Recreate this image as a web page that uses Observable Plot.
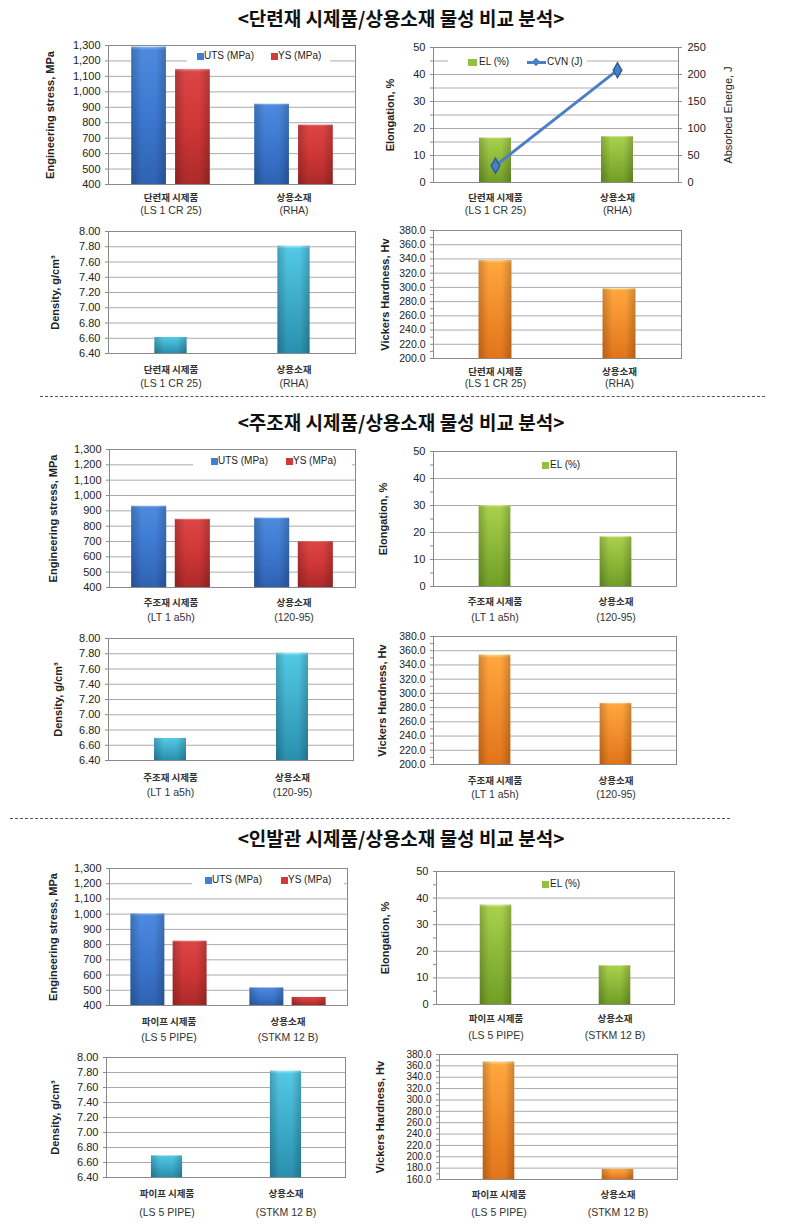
<!DOCTYPE html>
<html><head><meta charset="utf-8">
<script src="https://cdn.jsdelivr.net/npm/d3@7"></script>
<script src="https://cdn.jsdelivr.net/npm/@observablehq/plot@0.6"></script>
<style>
body{margin:0;background:#fff;}
#root{position:relative;width:802px;height:1232px;overflow:hidden;font-family:'Liberation Sans','Noto Sans CJK KR',sans-serif;}
.title{position:absolute;left:0;width:802px;text-align:center;font-family:'Noto Sans CJK KR',sans-serif;font-weight:bold;font-size:19px;line-height:24px;color:#111;}
.sep{position:absolute;height:0;border-top:1px dashed #555;}
.lgbox{position:absolute;background:#fff;}
.lg{position:absolute;font-size:10px;line-height:12px;color:#222;white-space:nowrap;}
.sw{position:absolute;}
</style></head><body><div id="root"></div>
<script>
// ---------- data ----------
const titles = ["<단련재 시제품/상용소재 물성 비교 분석>", "<주조재 시제품/상용소재 물성 비교 분석>", "<인발관 시제품/상용소재 물성 비교 분석>"];

const cats1 = ["단련재 시제품", "상용소재"];
const subs1 = ["(LS 1 CR 25)", "(RHA)"];
const uts1 = [1290, 920];
const ys1 = [1145, 785];
const el1 = [16.5, 17.0];
const cvn1 = [31, 208];
const density1 = [6.61, 7.81];
const hv1 = [338, 298];

const cats2 = ["주조재 시제품", "상용소재"];
const subs2 = ["(LT 1 a5h)", "(120-95)"];
const uts2 = [930, 853];
const ys2 = [845, 700];
const el2 = [30.0, 18.4];
const density2 = [6.69, 7.81];
const hv2 = [354, 286];

const cats3 = ["파이프 시제품", "상용소재"];
const subs3 = ["(LS 5 PIPE)", "(STKM 12 B)"];
const uts3 = [1002, 516];
const ys3 = [823, 453];
const el3 = [37.4, 14.6];
const density3 = [6.69, 7.82];
const hv3 = [367, 178];

const legendStress = ["UTS (MPa)", "YS (MPa)"];
const legendEl = "EL (%)";
const legendCvn = "CVN (J)";

const labStress = "Engineering stress, MPa";
const labEl = "Elongation, %";
const labCvn = "Absorbed Energe, J";
const labDen = "Density, g/cm³";
const labHv = "Vickers Hardness, Hv";

const stressTicks = [400, 500, 600, 700, 800, 900, 1000, 1100, 1200, 1300];
const elTicks = [0, 10, 20, 30, 40, 50];
const elMinor = [5, 15, 25, 35, 45];
const cvnTicks = [0, 50, 100, 150, 200, 250];
const denTicks = [6.4, 6.6, 6.8, 7.0, 7.2, 7.4, 7.6, 7.8, 8.0];
const hvTicks = [200, 220, 240, 260, 280, 300, 320, 340, 360, 380];
const hvMinor = [210, 230, 250, 270, 290, 310, 330, 350, 370];
const hvTicks3 = [160, 180, 200, 220, 240, 260, 280, 300, 320, 340, 360, 380];
const hvMinor3 = [170, 190, 210, 230, 250, 270, 290, 310, 330, 350, 370];

// ---------- styling ----------
const FONT = "'Liberation Sans','Noto Sans CJK KR',sans-serif";
const KFONT = "'Noto Sans CJK KR',sans-serif";
const COL = {blue: "#3f7fd4", red: "#d23a3a", green: "#92c040", cyan: "#45bfdd", orange: "#f7922e", line: "#4a7fc6"};
const PAL = {
  blue: [[0, "#8ab8f0"], [0.025, "#4d8ade"], [0.5, "#3c78cf"], [1, "#2f62b2"]],
  red: [[0, "#f08a8a"], [0.025, "#dc4545"], [0.5, "#cf3636"], [1, "#ad2a2a"]],
  green: [[0, "#d6ec94"], [0.03, "#a8d04c"], [1, "#719e26"]],
  cyan: [[0, "#a6ecf8"], [0.03, "#52c8e4"], [1, "#2a8fae"]],
  orange: [[0, "#ffd88a"], [0.03, "#ffa63e"], [1, "#e2741a"]]
};
const ns = "http://www.w3.org/2000/svg";
function defsMark(id) {
  return () => {
    const defs = document.createElementNS(ns, "defs");
    const add = (gid, horiz, stops) => {
      const lg = document.createElementNS(ns, "linearGradient");
      lg.setAttribute("id", gid);
      lg.setAttribute("x1", "0"); lg.setAttribute("y1", "0");
      lg.setAttribute("x2", horiz ? "1" : "0"); lg.setAttribute("y2", horiz ? "0" : "1");
      for (const [o, c, a = 1] of stops) {
        const s = document.createElementNS(ns, "stop");
        s.setAttribute("offset", o); s.setAttribute("stop-color", c); s.setAttribute("stop-opacity", a);
        lg.appendChild(s);
      }
      defs.appendChild(lg);
    };
    for (const [name, stops] of Object.entries(PAL)) add(`${id}-${name}`, false, stops);
    add(`${id}-shade`, true, [[0, "#000", 0.2], [0.3, "#000", 0], [0.7, "#000", 0], [1, "#000", 0.2]]);
    return defs;
  };
}

const root = document.getElementById("root");

function el(cls, css, text) {
  const d = document.createElement("div");
  d.className = cls;
  d.style.cssText = css;
  if (text != null) d.textContent = text;
  root.appendChild(d);
  return d;
}

function build(c) {
  const mL = 75, mR = c.mR ?? 20, mT = 8, mB = 50;
  const W = c.x1 - c.x0 + mL + mR, H = c.y1 - c.y0 + mT + mB;
  const bw = (c.x1 - c.x0) / c.cats.length;
  const marks = [defsMark(c.id), Plot.gridY(c.grid, {stroke: "#ababab", strokeOpacity: 1})];
  for (const b of c.bars) {
    const rows = c.cats.map((cat, i) => ({cat, v: b.values[i]}));
    const opts = {x: "cat", y1: c.yDomain[0], y2: "v", insetLeft: bw * b.off, insetRight: bw * (1 - b.off - b.w)};
    marks.push(Plot.barY(rows, {...opts, fill: `url(#${c.id}-${b.grad})`}));
    marks.push(Plot.barY(rows, {...opts, fill: `url(#${c.id}-shade)`}));
  }
  marks.push(Plot.frame({stroke: "#8a8a8a"}));
  marks.push(Plot.axisY(c.yTicks, {label: null, tickFormat: c.yFmt, tickSize: 3, tickPadding: 5, fontSize: c.tickFont ?? 11, stroke: "#8a8a8a", fill: "#222"}));
  if (c.minor) marks.push(Plot.axisY(c.minor, {label: null, tickFormat: () => "", tickSize: 3, stroke: "#8a8a8a"}));
  marks.push(Plot.axisX(c.cats, {label: null, tickSize: 0, tickPadding: c.p1, fontSize: 9.5, fontWeight: "bold", fontFamily: KFONT, fill: "#333"}));
  marks.push(Plot.axisX(c.cats, {label: null, tickSize: 0, tickPadding: c.p2, tickFormat: d => c.subs[c.cats.indexOf(d)], fontSize: 10.5, fill: "#333"}));
  marks.push(Plot.text([c.yLabel], {frameAnchor: "left", textAnchor: "middle", rotate: -90, dx: -c.labelOff, fontWeight: "bold", fontSize: 11, fill: "#222"}));
  if (c.extra) marks.push(...c.extra);
  const svg = Plot.plot({
    width: W, height: H,
    marginLeft: mL, marginRight: mR, marginTop: mT, marginBottom: mB,
    x: {type: "band", domain: c.cats, padding: 0, axis: null, label: null},
    y: {domain: c.yDomain, axis: null, label: null},
    style: {fontFamily: FONT, fontSize: "11px", color: "#222", background: "transparent", overflow: "visible"},
    marks
  });
  const wrap = document.createElement("div");
  wrap.style.cssText = `position:absolute;left:${c.x0 - mL}px;top:${c.y0 - mT}px;`;
  wrap.appendChild(svg);
  root.appendChild(wrap);
}

const grouped = (u, y) => [{values: u, grad: "blue", off: 0.18, w: 0.285}, {values: y, grad: "red", off: 0.535, w: 0.285}];
const single = (v, g) => [{values: v, grad: g, off: 0.3675, w: 0.265}];
const fStress = d3.format(",");
const fDen = d3.format(".2f");
const fHv = d3.format(".1f");
const cvnPerEl = cvnTicks[cvnTicks.length - 1] / elTicks[elTicks.length - 1];
const cvnRows = cats1.map((cat, i) => ({cat, cvn: cvn1[i]}));

const charts = [
  {id: "c1", x0: 108, x1: 355, y0: 45, y1: 184, cats: cats1, subs: subs1, yDomain: [400, 1300], yTicks: stressTicks, grid: stressTicks, yFmt: fStress, yLabel: labStress, labelOff: 58, p1: 10, p2: 22, bars: grouped(uts1, ys1)},
  {id: "c2", x0: 433, x1: 678, y0: 47, y1: 182, mR: 62, cats: cats1, subs: subs1, yDomain: [0, 50], yTicks: elTicks, grid: [0,5,10,15,20,25,30,35,40,45,50], minor: elMinor, yFmt: d => d, yLabel: labEl, labelOff: 43, p1: 11.5, p2: 24, bars: single(el1, "green"),
    extra: [
      Plot.line(cvnRows, {x: "cat", y: d => d.cvn / cvnPerEl, stroke: COL.line, strokeWidth: 3}),
      Plot.dot(cvnRows, {x: "cat", y: d => d.cvn / cvnPerEl, symbol: "diamond", r: 4.5, fill: COL.line, stroke: "#2f5e9e"}),
      Plot.axisY(elTicks, {anchor: "right", label: null, tickFormat: d => d * cvnPerEl, tickSize: 3, tickPadding: 6, fontSize: 11, stroke: "#8a8a8a", fill: "#222"}),
      Plot.text([labCvn], {frameAnchor: "right", textAnchor: "middle", rotate: -90, dx: 50, fontSize: 11, fill: "#222"})
    ]},
  {id: "c3", x0: 108, x1: 355, y0: 231, y1: 353, cats: cats1, subs: subs1, yDomain: [6.4, 8.0], yTicks: denTicks, grid: denTicks, yFmt: fDen, yLabel: labDen, labelOff: 53, p1: 13, p2: 26, bars: single(density1, "cyan")},
  {id: "c4", x0: 433, x1: 681, y0: 230, y1: 358, cats: cats1, subs: subs1, yDomain: [200, 380], yTicks: hvTicks, grid: hvTicks, minor: hvMinor, yFmt: fHv, tickFont: 10.5, yLabel: labHv, labelOff: 48, p1: 9.5, p2: 21.5, bars: single(hv1, "orange")},

  {id: "c5", x0: 109, x1: 355, y0: 449, y1: 587, cats: cats2, subs: subs2, yDomain: [400, 1300], yTicks: stressTicks, grid: stressTicks, yFmt: fStress, yLabel: labStress, labelOff: 56, p1: 11.5, p2: 26, bars: grouped(uts2, ys2)},
  {id: "c6", x0: 433, x1: 676, y0: 451, y1: 586, cats: cats2, subs: subs2, yDomain: [0, 50], yTicks: elTicks, grid: elTicks, minor: elMinor, yFmt: d => d, yLabel: labEl, labelOff: 50, p1: 11.5, p2: 27, bars: single(el2, "green")},
  {id: "c7", x0: 108, x1: 353, y0: 638, y1: 760, cats: cats2, subs: subs2, yDomain: [6.4, 8.0], yTicks: denTicks, grid: denTicks, yFmt: fDen, yLabel: labDen, labelOff: 50, p1: 13.5, p2: 28, bars: single(density2, "cyan")},
  {id: "c8", x0: 433, x1: 676, y0: 636, y1: 764, cats: cats2, subs: subs2, yDomain: [200, 380], yTicks: hvTicks, grid: hvTicks, minor: hvMinor, yFmt: fHv, tickFont: 10.5, yLabel: labHv, labelOff: 51, p1: 12.5, p2: 26, bars: single(hv2, "orange")},

  {id: "c9", x0: 109, x1: 347, y0: 868, y1: 1005, cats: cats3, subs: subs3, yDomain: [400, 1300], yTicks: stressTicks, grid: stressTicks, yFmt: fStress, yLabel: labStress, labelOff: 56, p1: 12.5, p2: 28, bars: grouped(uts3, ys3)},
  {id: "c10", x0: 436, x1: 674, y0: 871, y1: 1004, cats: cats3, subs: subs3, yDomain: [0, 50], yTicks: elTicks, grid: elTicks, minor: elMinor, yFmt: d => d, yLabel: labEl, labelOff: 51, p1: 10.5, p2: 27, bars: single(el3, "green")},
  {id: "c11", x0: 106, x1: 345, y0: 1057, y1: 1177, cats: cats3, subs: subs3, yDomain: [6.4, 8.0], yTicks: denTicks, grid: denTicks, yFmt: fDen, yLabel: labDen, labelOff: 51, p1: 12.5, p2: 31, bars: single(density3, "cyan")},
  {id: "c12", x0: 439, x1: 677, y0: 1054, y1: 1179, cats: cats3, subs: subs3, yDomain: [160, 380], yTicks: hvTicks3, grid: hvTicks3, minor: hvMinor3, yFmt: fHv, tickFont: 10, yLabel: labHv, labelOff: 59, p1: 11.5, p2: 29, bars: single(hv3, "orange")}
];

// titles and separators
el("title", "top:6px;", titles[0]);
el("title", "top:410px;", titles[1]);
el("title", "top:826px;", titles[2]);
el("sep", "left:40px;width:725px;top:396px;");
el("sep", "left:10px;width:720px;top:818px;");

charts.forEach(build);

// legends
function stressLegend(bx, by, bw, bh, sx1, sx2, cy) {
  el("lgbox", `left:${bx}px;top:${by}px;width:${bw}px;height:${bh}px;`);
  el("sw", `left:${sx1}px;top:${cy - 3.5}px;width:7px;height:7px;background:${COL.blue};`);
  el("lg", `left:${sx1 + 7}px;top:${cy - 6}px;`, legendStress[0]);
  el("sw", `left:${sx2}px;top:${cy - 3.5}px;width:7px;height:7px;background:${COL.red};`);
  el("lg", `left:${sx2 + 7}px;top:${cy - 6}px;`, legendStress[1]);
}
stressLegend(187, 49, 143, 15, 197, 271, 56);
stressLegend(193, 454, 159, 15, 211, 286, 461);
stressLegend(192, 873, 152, 15, 205, 281, 880);

// EL + CVN legend
el("lgbox", "left:448px;top:55px;width:139px;height:14px;");
el("sw", `left:468px;top:58.5px;width:9px;height:7px;background:${COL.green};`);
el("lg", "left:479px;top:56px;", legendEl);
el("sw", `left:527px;top:60.5px;width:19px;height:3px;background:${COL.line};`);
el("sw", `left:533px;top:59px;width:6px;height:6px;background:${COL.line};transform:rotate(45deg);`);
el("lg", "left:547px;top:56px;", legendCvn);

el("sw", `left:542px;top:461.5px;width:7px;height:7px;background:${COL.green};`);
el("lg", "left:550px;top:459px;", legendEl);
el("sw", `left:542px;top:880.5px;width:7px;height:7px;background:${COL.green};`);
el("lg", "left:550px;top:878px;", legendEl);
</script></body></html>
